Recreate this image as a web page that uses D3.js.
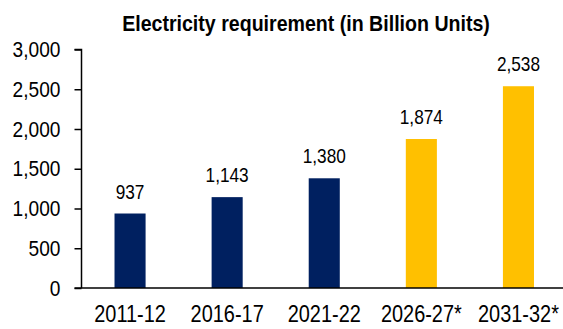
<!DOCTYPE html>
<html>
<head>
<meta charset="utf-8">
<script src="https://cdn.jsdelivr.net/npm/d3@7"></script>
<style>
  body { margin: 0; background: #fff; }
  svg text { font-family: "Liberation Sans Narrow", "Arial Narrow", "Liberation Sans", Arial, sans-serif; fill: #000; }
</style>
</head>
<body>
<div id="chart"></div>
<script>
// chart data
const years = ['2011-12', '2016-17', '2021-22', '2026-27*', '2031-32*'];
const requirement = [937, 1143, 1380, 1874, 2538];
const projected = [false, false, false, true, true];
const yTicks = [0, 500, 1000, 1500, 2000, 2500, 3000];

const width = 563;
const height = 329;
const margin = { top: 49.5, right: -4, bottom: 41, left: 81.5 };

// squeeze text horizontally, no narrow font installed
function narrow(sel, k) {
  sel.each(function () {
    const len = this.getComputedTextLength();
    d3.select(this)
      .attr('textLength', len * k)
      .attr('lengthAdjust', 'spacingAndGlyphs');
  });
}

const svg = d3.select('#chart')
  .append('svg')
  .attr('width', width)
  .attr('height', height);

const x = d3.scaleBand()
  .domain(years)
  .range([margin.left, width - margin.right])
  .paddingInner(0.68)
  .paddingOuter(0.34);

const y = d3.scaleLinear()
  .domain([0, 3000])
  .range([height - margin.bottom, margin.top]);

// title
svg.append('text')
  .attr('x', 306)
  .attr('y', 31)
  .attr('text-anchor', 'middle')
  .style('font-size', '22px')
  .style('font-weight', 'bold')
  .text('Electricity requirement (in Billion Units)')
  .call(narrow, 0.89);

// bars
svg.selectAll('rect.bar')
  .data(years)
  .enter()
  .append('rect')
  .attr('class', 'bar')
  .attr('x', d => x(d))
  .attr('width', x.bandwidth())
  .attr('y', (d, i) => y(requirement[i]))
  .attr('height', (d, i) => y(0) - y(requirement[i]))
  .attr('fill', (d, i) => projected[i] ? '#FFC000' : '#002060');

// value labels
svg.selectAll('text.value')
  .data(years)
  .enter()
  .append('text')
  .attr('class', 'value')
  .attr('x', d => x(d) + x.bandwidth() / 2)
  .attr('y', (d, i) => y(requirement[i]) - 15)
  .attr('text-anchor', 'middle')
  .style('font-size', '21px')
  .text((d, i) => d3.format(',')(requirement[i]))
  .call(narrow, 0.82);

// y axis
const yAxis = svg.append('g')
  .attr('transform', `translate(${margin.left},0)`)
  .call(d3.axisLeft(y).tickValues(yTicks).tickFormat(d3.format(',')).tickSize(7).tickPadding(14));
yAxis.selectAll('path, line').attr('stroke', '#000').attr('stroke-width', 1.5);
yAxis.selectAll('text').style('font-size', '22px').attr('fill', '#000').call(narrow, 0.87);
yAxis.select('.domain').attr('d', `M-7,${y(3000)}H0V${y(0)}`);

// x axis
const xAxis = svg.append('g')
  .attr('transform', `translate(0,${y(0)})`)
  .call(d3.axisBottom(x).tickSize(0).tickPadding(17));
xAxis.select('.domain').attr('stroke', '#000').attr('stroke-width', 1.5)
  .attr('d', `M${margin.left - 7},0H${width}`);
xAxis.selectAll('text').style('font-size', '24px').attr('fill', '#000').call(narrow, 0.83);
</script>
</body>
</html>
